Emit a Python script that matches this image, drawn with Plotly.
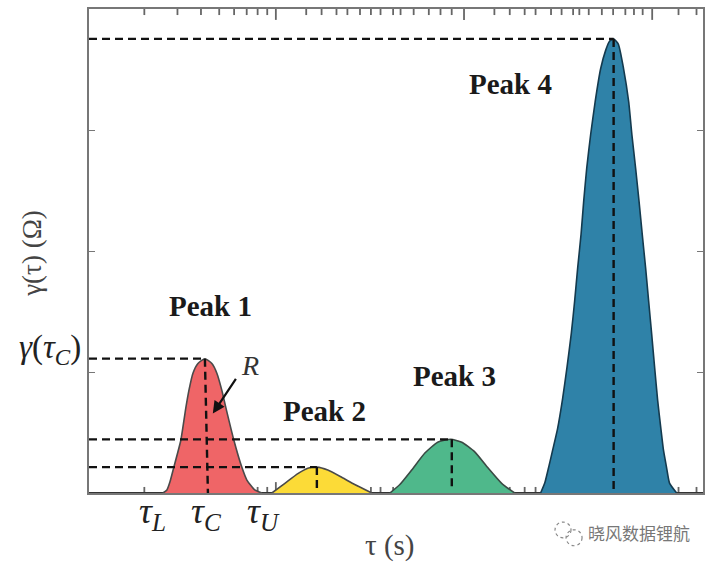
import plotly.graph_objects as go

# log10(tau) positions and gamma values
peak1_logtau = [-0.600, -0.579, -0.563, -0.542, -0.505, -0.478, -0.462, -0.441, -0.414, -0.377, -0.340, -0.313, -0.287, -0.266, -0.223, -0.181, -0.154, -0.112, -0.074]
peak1_gamma = [0.00, 0.025, 0.09, 0.214, 0.436, 0.708, 0.848, 0.988, 1.07, 1.11, 1.07, 0.988, 0.848, 0.708, 0.436, 0.214, 0.107, 0.025, 0.00]
peak2_logtau = [-0.021, 0.048, 0.117, 0.170, 0.218, 0.276, 0.350, 0.419, 0.510]
peak2_gamma = [0.00, 0.08, 0.16, 0.205, 0.214, 0.19, 0.13, 0.07, 0.00]
peak3_logtau = [0.606, 0.659, 0.722, 0.792, 0.860, 0.930, 0.988, 1.057, 1.126, 1.200, 1.269]
peak3_gamma = [0.00, 0.07, 0.19, 0.33, 0.42, 0.444, 0.42, 0.34, 0.21, 0.08, 0.00]
peak4_logtau = [1.407, 1.429, 1.450, 1.471, 1.497, 1.524, 1.547, 1.570, 1.588, 1.604, 1.622, 1.636, 1.652, 1.673, 1.697, 1.726, 1.753, 1.774, 1.795, 1.820, 1.848, 1.875, 1.892, 1.912, 1.930, 1.947, 1.965, 1.981, 1.997, 2.013, 2.029, 2.047, 2.060, 2.076, 2.092, 2.130]
peak4_gamma = [0.00, 0.082, 0.214, 0.354, 0.53, 0.78, 1.037, 1.317, 1.588, 1.860, 2.140, 2.412, 2.683, 2.963, 3.235, 3.506, 3.660, 3.735, 3.753, 3.710, 3.506, 3.235, 2.963, 2.683, 2.412, 2.140, 1.860, 1.588, 1.317, 1.037, 0.765, 0.520, 0.354, 0.214, 0.082, 0.00]

peak_fill = ["#EF6567", "#FCDB37", "#4FB88B", "#2F82A8"]
peak_edge = ["#4A4A4A", "#4A4A4A", "#3A4A44", "#143A4E"]

# dashed guides
guide_left = -0.993
guide_right = 2.27
guide_top_x = [-0.377, 0.218, 0.935, 1.795]
guide_foot_x = [-0.361, 0.218, 0.935, 1.795]
peak_height = [1.11, 0.214, 0.444, 3.753]
guide_foot = [0.0, 0.025, 0.03, 0.0]

major_x = [1, 10, 100]
minor_x = [0.2, 0.3, 0.4, 0.5, 0.6, 0.7, 0.8, 0.9,
           1.45, 1.75, 2.1, 2.4, 2.8, 3.2, 3.6, 4.2, 4.6, 5.4, 6.5, 7.5, 8.6,
           14.5, 17.5, 21, 24, 29, 33, 38, 41, 46, 54, 62, 72, 80, 89,
           138, 172]
major_y = [1, 2, 3]
y_top = 4
minor_len = 0.05
major_len = 0.09

peak_labels = ["Peak 1", "Peak 2", "Peak 3", "Peak 4"]
peak_label_x = [-0.345, 0.26, 0.95, 1.248]
peak_label_y = [1.545, 0.675, 0.963, 3.38]
tau_labels = ["<i>τ<sub>L</sub></i>", "<i>τ<sub>C</sub></i>", "<i>τ<sub>U</sub></i>"]
tau_label_x = [-0.653, -0.367, -0.064]

SERIF = "Liberation Serif"
TICK = "#666666"
fig = go.Figure()


def x_tick_trace(xs, y0, y1):
    px, py = [], []
    for v in xs:
        px += [v, v, None]
        py += [y0, y1, None]
    return go.Scatter(x=px, y=py, mode="lines", hoverinfo="skip",
                      connectgaps=False, line=dict(color=TICK, width=1.8))


# tick marks along the bottom and top of the frame
fig.add_trace(x_tick_trace(minor_x, 0, minor_len))
fig.add_trace(x_tick_trace(major_x, 0, major_len))
fig.add_trace(x_tick_trace(minor_x, y_top, y_top - minor_len))
fig.add_trace(x_tick_trace(major_x, y_top, y_top - major_len))

fig.add_trace(go.Scatter(x=[0.1, 190], y=[0, 0], mode="lines",
                         line=dict(color="#333333", width=2), hoverinfo="skip"))

all_x = [peak1_logtau, peak2_logtau, peak3_logtau, peak4_logtau]
all_y = [peak1_gamma, peak2_gamma, peak3_gamma, peak4_gamma]
for xs, ys, fc, ec in zip(all_x, all_y, peak_fill, peak_edge):
    fig.add_trace(go.Scatter(x=[10 ** v for v in xs], y=ys, mode="lines",
                             fill="tozeroy", fillcolor=fc,
                             line=dict(color=ec, width=1.6, shape="spline", smoothing=0.5)))

for tx, fx, h, foot in zip(guide_top_x, guide_foot_x, peak_height, guide_foot):
    fig.add_trace(go.Scatter(x=[10 ** guide_left, 10 ** tx], y=[h, h], mode="lines",
                             line=dict(color="#111111", width=2.2, dash="8px,5px")))
    fig.add_trace(go.Scatter(x=[10 ** tx, 10 ** fx], y=[h, foot], mode="lines",
                             line=dict(color="#111111", width=2.4, dash="8px,5px")))

ann = []
for t, x, y in zip(peak_labels, peak_label_x, peak_label_y):
    ann.append(dict(x=x, y=y, text="<b>%s</b>" % t, showarrow=False,
                    font=dict(family=SERIF, size=29, color="#1a1a1a")))
for t, x in zip(tau_labels, tau_label_x):
    ann.append(dict(x=x, yref="paper", y=-0.043, yanchor="middle", text=t, showarrow=False,
                    font=dict(family=SERIF, size=36, color="#222222")))
ann += [
    dict(xref="paper", yref="y", x=-0.0635, y=1.19, text="<i>γ</i>(<i>τ<sub>C</sub></i>)", showarrow=False,
         xanchor="center", yanchor="middle", font=dict(family=SERIF, size=33, color="#222222")),
    dict(xref="paper", yref="paper", x=-0.093, y=0.496, text="γ(τ) (Ω)", textangle=-90, showarrow=False,
         xanchor="center", yanchor="middle", font=dict(family=SERIF, size=27, color="#444444")),
    dict(xref="paper", yref="paper", x=0.49, y=-0.109, text="τ (s)", showarrow=False,
         xanchor="center", yanchor="middle", font=dict(family=SERIF, size=29, color="#444444")),
    dict(x=-0.138, y=1.05, text="<i>R</i>", showarrow=False,
         font=dict(family=SERIF, size=28, color="#333333")),
    dict(x=-0.335, y=0.658, ax=-0.207, ay=0.955, xref="x", yref="y", axref="x", ayref="y",
         text="", showarrow=True, arrowhead=2, arrowsize=1.1, arrowwidth=2.2, arrowcolor="#111111"),
    dict(xref="paper", yref="paper", x=0.982, y=-0.0825, xanchor="right", yanchor="middle",
         text="晓风数据锂航", showarrow=False,
         font=dict(family="Noto Sans CJK SC", size=17, color="#777777")),
]

# watermark logo outline
logo = [dict(type="circle", xref="paper", yref="paper", x0=0.759, x1=0.785, y0=-0.060, y1=-0.0926,
             line=dict(color="#888888", width=1.2, dash="dot")),
        dict(type="circle", xref="paper", yref="paper", x0=0.777, x1=0.803, y0=-0.076, y1=-0.109,
             line=dict(color="#888888", width=1.2, dash="dot"))]

fig.update_layout(
    width=713, height=564, autosize=False, showlegend=False,
    paper_bgcolor="white", plot_bgcolor="white",
    margin=dict(l=89, r=10, t=7, b=71),
    annotations=ann, shapes=logo,
    xaxis=dict(type="log", range=[guide_left, guide_right], showgrid=False, zeroline=False,
               showline=True, linecolor="#777777", linewidth=2, mirror=True,
               ticks="", showticklabels=False),
    yaxis=dict(range=[0, y_top], showgrid=False, zeroline=False,
               showline=True, linecolor="#777777", linewidth=2, mirror="ticks",
               ticks="inside", tickcolor="#777777", ticklen=6, tickwidth=1.4,
               tickvals=major_y, showticklabels=False),
)
fig.write_html("out.html", config=dict(displayModeBar=False),
               post_script="document.body.style.margin='0';")
